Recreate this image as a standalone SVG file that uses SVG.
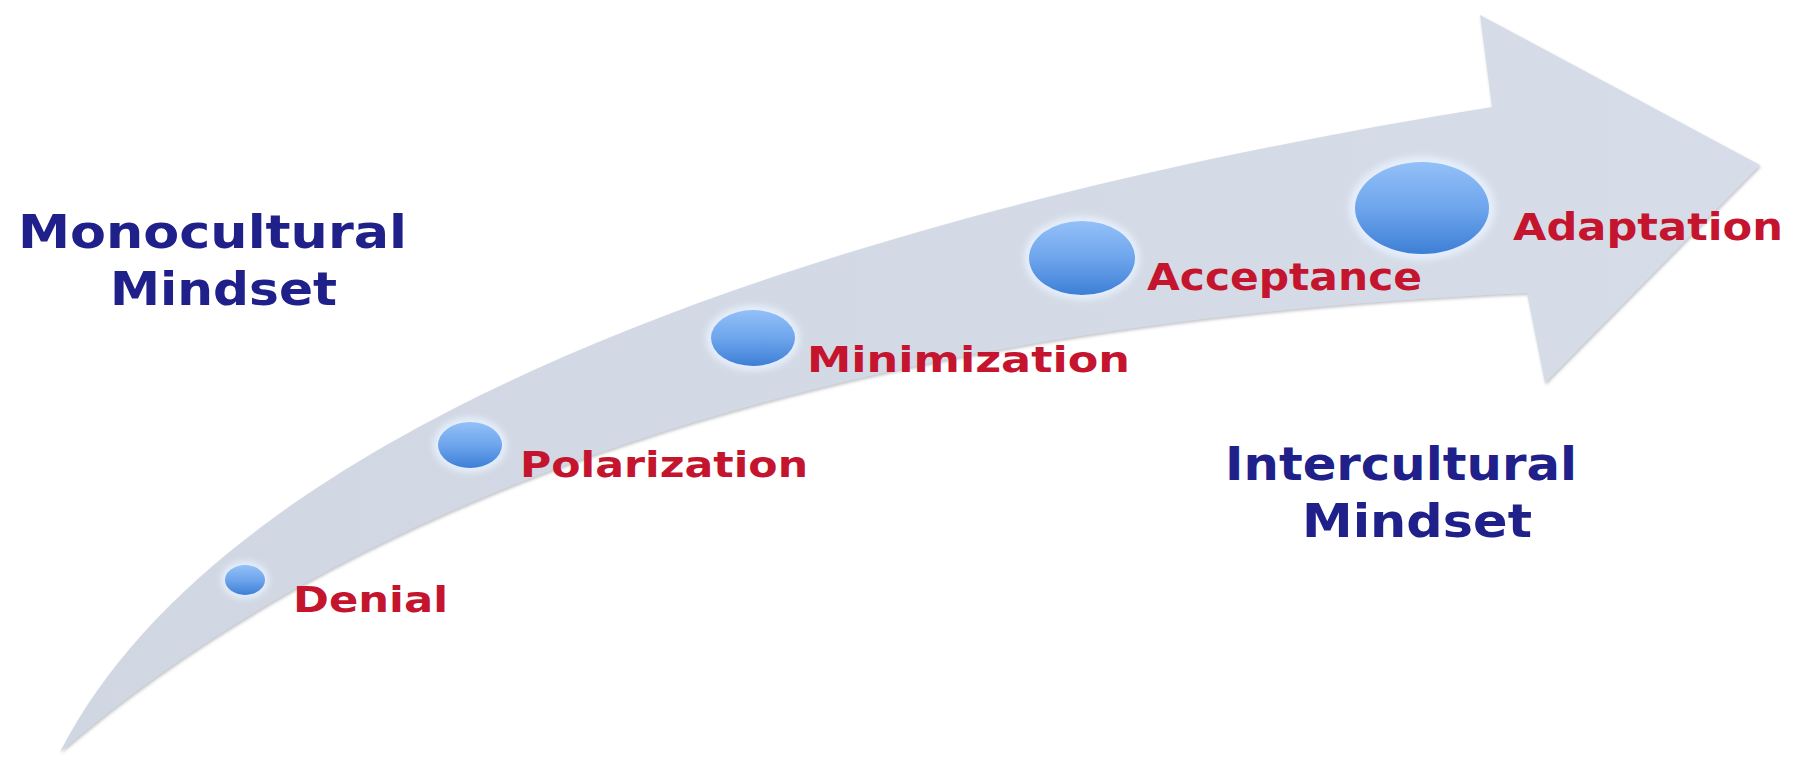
<svg xmlns="http://www.w3.org/2000/svg" width="1806" height="764" viewBox="0 0 1806 764">
  <defs>
    <linearGradient id="ball" x1="0" y1="0" x2="0" y2="1">
      <stop offset="0" stop-color="#93c0f8"/>
      <stop offset="0.5" stop-color="#6ea5ec"/>
      <stop offset="1" stop-color="#3d7fd6"/>
    </linearGradient>
    <linearGradient id="arrowFill" x1="0" y1="0" x2="1" y2="0">
      <stop offset="0" stop-color="#d0d7e3"/>
      <stop offset="1" stop-color="#d6dde9"/>
    </linearGradient>
    <filter id="shadow" x="-5%" y="-5%" width="110%" height="115%">
      <feDropShadow dx="1" dy="2" stdDeviation="1.5" flood-color="#7a808a" flood-opacity="0.45"/>
    </filter>
    <filter id="glow" x="-30%" y="-30%" width="160%" height="160%">
      <feGaussianBlur stdDeviation="3"/>
    </filter>
  </defs>
  <style>
    .stage { font-family: "DejaVu Sans", Verdana, sans-serif; font-weight: bold; fill: #c4142e; }
    .mind { font-family: "DejaVu Sans", Verdana, sans-serif; font-weight: bold; fill: #20208a; font-size: 46px; }
    .halo { fill: #e6eefb; filter: url(#glow); }
    .ball { fill: url(#ball); }
  </style>
  <rect width="1806" height="764" fill="#ffffff"/>

  <g id="connectors">
    <path id="arrow" d="M60,752 C233,414 850,210 1492,107 L1480,15 L1760,165 L1545,383 L1527,293 C900,320 395,465 60,752 Z" fill="url(#arrowFill)" filter="url(#shadow)"/>
  </g>

  <g id="denial">
    <ellipse class="halo" cx="245" cy="580" rx="24" ry="19"/>
    <ellipse class="ball" cx="245" cy="580" rx="20" ry="15"/>
    <text class="stage" x="293" y="612" font-size="35" textLength="155" lengthAdjust="spacingAndGlyphs">Denial</text>
  </g>

  <g id="polarization">
    <ellipse class="halo" cx="470" cy="445" rx="37" ry="28"/>
    <ellipse class="ball" cx="470" cy="445" rx="32" ry="23"/>
    <text class="stage" x="520" y="477" font-size="35" textLength="288" lengthAdjust="spacingAndGlyphs">Polarization</text>
  </g>

  <g id="minimization">
    <ellipse class="halo" cx="753" cy="338" rx="47" ry="33"/>
    <ellipse class="ball" cx="753" cy="338" rx="42" ry="28"/>
    <text class="stage" x="807" y="372" font-size="36" textLength="323" lengthAdjust="spacingAndGlyphs">Minimization</text>
  </g>

  <g id="acceptance">
    <ellipse class="halo" cx="1082" cy="258" rx="58" ry="42"/>
    <ellipse class="ball" cx="1082" cy="258" rx="53" ry="37"/>
    <text class="stage" x="1147" y="290" font-size="37" textLength="275" lengthAdjust="spacingAndGlyphs">Acceptance</text>
  </g>

  <g id="adaptation">
    <ellipse class="halo" cx="1422" cy="208" rx="73" ry="52"/>
    <ellipse class="ball" cx="1422" cy="208" rx="67" ry="46"/>
    <text class="stage" x="1513" y="240" font-size="37" textLength="270" lengthAdjust="spacingAndGlyphs">Adaptation</text>
  </g>

  <g id="monocultural-mindset">
    <text class="mind" x="18" y="248" textLength="389" lengthAdjust="spacingAndGlyphs">Monocultural</text>
    <text class="mind" x="110" y="305" textLength="227" lengthAdjust="spacingAndGlyphs">Mindset</text>
  </g>

  <g id="intercultural-mindset">
    <text class="mind" x="1225" y="480" textLength="352" lengthAdjust="spacingAndGlyphs">Intercultural</text>
    <text class="mind" x="1302" y="537" textLength="230" lengthAdjust="spacingAndGlyphs">Mindset</text>
  </g>
</svg>
